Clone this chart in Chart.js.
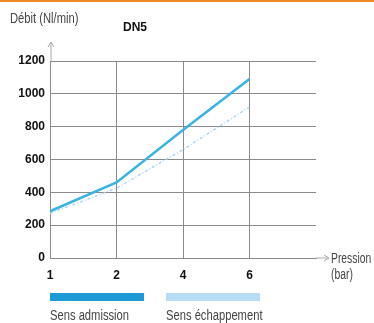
<!DOCTYPE html>
<html>
<head>
<meta charset="utf-8">
<script src="https://cdn.jsdelivr.net/npm/chart.js@4/dist/chart.umd.min.js"></script>
<style>
  html, body { margin: 0; padding: 0; background: #fff; }
  #wrap { position: relative; width: 374px; height: 323px; }
  canvas { display: block; }
</style>
</head>
<body>
<div id="wrap"><canvas id="c" width="374" height="323"></canvas></div>
<script>
// Pression (bar) categories; the trailing blank slot extends the grid to the right
const pressures = ['1', '2', '4', '6', ''];
// Débit (Nl/min)
const admission = [285, 460, 780, 1090];
const echappement = [272, 425, 660, 920];
const yTicks = [0, 200, 400, 600, 800, 1000, 1200];
const seriesNames = ['Sens admission', 'Sens échappement'];

const FONT = "'Liberation Sans', Arial, sans-serif";
const GRID = '#8a8a8a';

// narrow, light caption text
function condensed(ctx, text, x, y, size, color, squeeze) {
  ctx.save();
  ctx.font = size + 'px ' + FONT;
  ctx.fillStyle = color;
  ctx.textAlign = 'left';
  ctx.textBaseline = 'alphabetic';
  ctx.translate(x, y);
  ctx.scale(squeeze || 0.8, 1);
  ctx.fillText(text, 0, 0);
  ctx.restore();
}

const extras = {
  id: 'extras',
  afterDraw(chart) {
    const ctx = chart.ctx;
    const a = chart.chartArea;
    ctx.save();
    // top rule
    ctx.fillStyle = '#f08a24';
    ctx.fillRect(0, 0, 374, 2);

    // titles
    condensed(ctx, 'Débit (Nl/min)', 10, 23, 14, '#444');
    ctx.font = "bold 12px " + FONT;
    ctx.fillStyle = '#111';
    ctx.textAlign = 'left';
    ctx.fillText('DN5', 123, 31);

    // axis arrows
    ctx.strokeStyle = '#aaa';
    ctx.lineWidth = 1;
    ctx.beginPath();
    ctx.moveTo(a.left + 1, a.top); ctx.lineTo(a.left + 1, 42);
    ctx.moveTo(a.left - 2, 47); ctx.lineTo(a.left + 1, 42); ctx.lineTo(a.left + 4, 47);
    const y0 = chart.scales.y.getPixelForValue(0);
    ctx.moveTo(a.right, y0); ctx.lineTo(329, y0);
    ctx.moveTo(324, y0 - 3); ctx.lineTo(329, y0); ctx.lineTo(324, y0 + 3);
    ctx.stroke();

    condensed(ctx, 'Pression', 331, y0 + 5, 14, '#444', 0.74);
    condensed(ctx, '(bar)', 331, y0 + 21, 14, '#444', 0.74);

    // legend
    const ds = chart.data.datasets;
    const boxes = [
      { x: 50, color: '#1e9ad6' },
      { x: 166, color: '#b6ddf4' }
    ];
    boxes.forEach((b, i) => {
      ctx.fillStyle = b.color;
      ctx.fillRect(b.x, 293, 94, 8);
      condensed(ctx, ds[i].label, b.x, 320, 14, '#444');
    });
    ctx.restore();
  }
};

new Chart(document.getElementById('c'), {
  type: 'line',
  data: {
    labels: pressures,
    datasets: [
      {
        label: seriesNames[0],
        data: admission,
        borderColor: '#3bb4e5',
        borderWidth: 2.6,
        pointRadius: 0,
        tension: 0
      },
      {
        label: seriesNames[1],
        data: echappement,
        borderColor: '#a6d4f2',
        borderWidth: 1.4,
        borderDash: [3, 2, 1, 2],
        pointRadius: 0,
        tension: 0
      }
    ]
  },
  options: {
    responsive: false,
    animation: false,
    layout: { padding: { left: 0, right: 58, top: 61, bottom: 0 } },
    plugins: { legend: { display: false }, tooltip: { enabled: false } },
    scales: {
      x: {
        offset: false,
        grid: {
          color: (c) => (c.index === 4 ? 'rgba(0,0,0,0)' : GRID),
          lineWidth: 1,
          drawTicks: false
        },
        border: { color: GRID },
        ticks: {
          color: '#111',
          font: { family: FONT, size: 12, weight: 'bold' },
          padding: 10,
          maxRotation: 0,
          autoSkip: false
        },
        afterFit: (s) => { s.height = 65; }
      },
      y: {
        min: 0,
        max: 1200,
        afterBuildTicks: (s) => { s.ticks = yTicks.map(v => ({ value: v })); },
        grid: { color: GRID, lineWidth: 1, drawTicks: false },
        border: { color: GRID },
        ticks: {
          color: '#111',
          font: { family: FONT, size: 12, weight: 'bold' },
          padding: 5,
          callback: (v) => String(v)
        },
        afterFit: (s) => { s.width = 50; }
      }
    }
  },
  plugins: [extras]
});
</script>
</body>
</html>
